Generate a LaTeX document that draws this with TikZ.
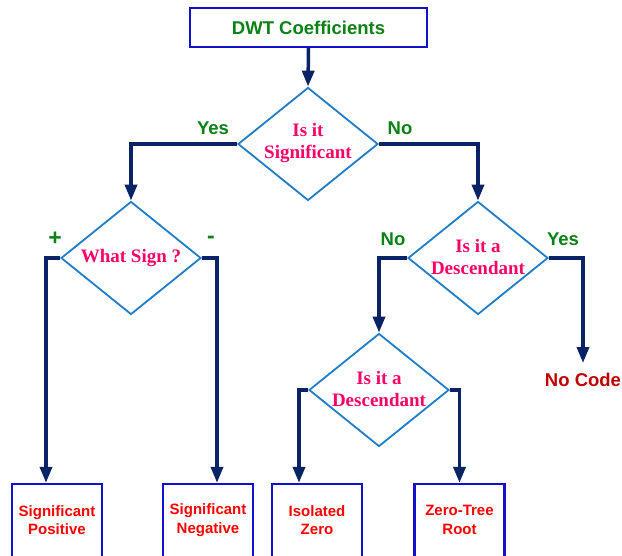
\documentclass[tikz,border=0pt]{standalone}
\usepackage{fontspec}
\setmainfont{Liberation Serif}
\newfontfamily\arialf{Liberation Sans}
\usetikzlibrary{arrows.meta,shapes.geometric}
\definecolor{boxblue}{RGB}{18,18,205}
\definecolor{diablue}{RGB}{30,125,200}
\definecolor{navyc}{RGB}{10,35,100}
\definecolor{dgreen}{RGB}{10,130,20}
\definecolor{pinkc}{RGB}{255,0,102}
\definecolor{redc}{RGB}{255,0,0}
\definecolor{dredc}{RGB}{195,0,0}
\begin{document}
\begin{tikzpicture}[x=1pt,y=-1pt,
  topbox/.style={draw=boxblue, line width=2.3pt, minimum width=237pt, minimum height=39pt, inner sep=0pt,
    font=\arialf\bfseries\fontsize{18.5}{20}\selectfont, text=dgreen},
  dia/.style={diamond, draw=diablue, line width=1.8pt, minimum width=140pt, minimum height=113pt, inner sep=0pt},
  dtext/.style={font=\bfseries\fontsize{19}{22}\selectfont, text=pinkc, align=center, inner sep=0pt},
  leaf/.style={draw=boxblue, line width=2.3pt, minimum width=90pt, minimum height=80pt, inner sep=0pt},
  ltext/.style={font=\arialf\bfseries\fontsize{15}{18.5}\selectfont, text=redc, align=center, inner sep=0pt},
  lbl/.style={font=\arialf\bfseries\fontsize{18.5}{20}\selectfont, text=dgreen, inner sep=0pt},
  sgn/.style={font=\arialf\bfseries\fontsize{23}{24}\selectfont, text=dgreen, inner sep=0pt},
  conn/.style={draw=navyc, line width=3.5pt, -{Triangle[length=16pt,width=12pt]}},
  ]
\useasboundingbox (0,0) rectangle (622,556);
\clip (0,0) rectangle (622,556);
\fill[white] (0,0) rectangle (622,556);

% nodes
\node[topbox] (top) at (308.5,27.5) {DWT Coefficients};
\node[dia] (d1) at (308,144) {};
\node[dtext] (t1) at (308,143) {Is it\\Significant};
\node[dia] (d2) at (131,258) {};
\node[dtext] (t2) at (131,258) {What Sign ?};
\node[dia] (d3) at (478,258) {};
\node[dtext] (t3) at (478,257) {Is it a\\Descendant};
\node[dia] (d4) at (379,390) {};
\node[dtext] (t4) at (379,389) {Is it a\\Descendant};

\node[leaf] (b1) at (57,524) {};
\node[ltext] (l1) at (57,520) {Significant\\Positive};
\node[leaf] (b2) at (208,524) {};
\node[ltext] (l2) at (208,520) {Significant\\Negative};
\node[leaf] (b3) at (317,524) {};
\node[ltext] (l3) at (317,520) {Isolated\\Zero};
\node[leaf] (b4) at (459.5,524) {};
\node[ltext] (l4) at (459.5,520) {Zero-Tree\\Root};

\node[font=\arialf\bfseries\fontsize{18.5}{20}\selectfont, text=dredc, inner sep=0pt] (nc) at (583,380) {No Code};

% labels
\node[lbl] (y1) at (213,128) {Yes};
\node[lbl] (n1) at (400,128) {No};
\node[sgn] (pl) at (55,239) {+};
\node[sgn] (mi) at (211,240) {-};
\node[lbl] (n3) at (393,239) {No};
\node[lbl] (y3) at (563,239) {Yes};

% connectors
\draw[conn] (top.south) -- (d1.north);
\draw[conn] (d1.west) -| (d2.north);
\draw[conn] (d1.east) -| (d3.north);
\draw[conn] (d2.west) -| ([xshift=-11pt]b1.north);
\draw[conn] (d2.east) -| ([xshift=9pt]b2.north);
\draw[conn] (d3.west) -| (d4.north);
\draw[conn] (d3.east) -| ([yshift=10pt]nc.north);
\draw[conn] (d4.west) -| ([xshift=-18pt]b3.north);
\draw[conn] (d4.east) -| (b4.north);
\end{tikzpicture}
\end{document}
